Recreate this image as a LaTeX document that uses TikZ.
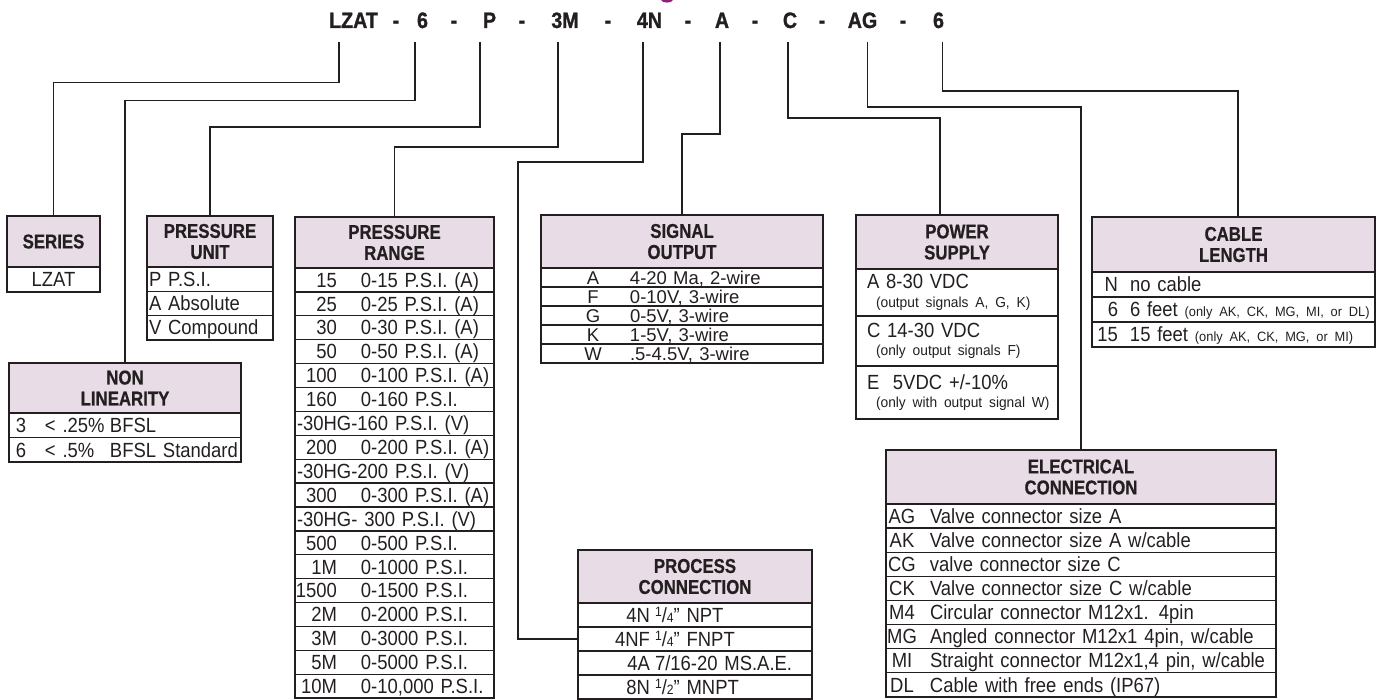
\documentclass[tikz,border=0pt]{standalone}
\usepackage{fontspec}
\setmainfont{Liberation Sans}[FakeStretch=0.9]
\newfontfamily\titlefam{Liberation Sans}[FakeStretch=0.88, BoldFeatures={FakeBold=1.2}]
\newfontfamily\hdrfam{Liberation Sans}[FakeStretch=0.84, BoldFeatures={FakeBold=0.6}]
\newfontfamily\notefam{Liberation Sans}[FakeStretch=0.95]
\newfontfamily\widefam{Liberation Sans}
\usetikzlibrary{positioning, calc}
\definecolor{inkGray}{HTML}{231F20}
\definecolor{hdrPink}{HTML}{E8DCE6}
\definecolor{titlePurple}{HTML}{8E1F7E}

\newcommand{\bodyfont}{\fontsize{20.5}{22}\selectfont}
\newcommand{\sigfont}{\widefam\fontsize{18.5}{20}\selectfont}
\newcommand{\notefont}{\notefam\fontsize{14.5}{16}\selectfont}
\newcommand{\cabnote}{\notefam\fontsize{13.5}{15}\selectfont}
\newcommand{\fracfont}{\fontsize{13.5}{15}\selectfont}
\newcommand{\hdrfont}{\hdrfam\bfseries\fontsize{20}{21}\selectfont}
\newcommand{\codefont}{\titlefam\bfseries\fontsize{22.3}{24}\selectfont}
\newcommand{\frc}[2]{\raisebox{0.55ex}{\fracfont #1}/{\fracfont #2}}
\newcommand{\prc}[1]{\makebox[40pt][r]{#1}\hspace{24pt}}

\tikzset{
  wire/.style={draw=inkGray, line width=1.6pt},
  codetxt/.style={font=\codefont, text=inkGray, inner sep=0pt, text height=16pt, text depth=0pt},
  hdrbox/.style={draw=inkGray, line width=1.4pt, fill=hdrPink, anchor=north west,
                 inner sep=0pt, outer sep=0pt, align=center, font=\hdrfont, text=inkGray},
  rowbox/.style={draw=inkGray, line width=1.3pt, anchor=north west, inner xsep=2pt,
                 inner ysep=0pt, outer sep=0pt, align=left, font=\bodyfont, text=inkGray,
                 text height=14.5pt, text depth=0pt},
  rowtall/.style={draw=inkGray, line width=1.3pt, anchor=north west, inner xsep=2pt,
                 inner ysep=0pt, outer sep=0pt, align=left, font=\bodyfont, text=inkGray},
  tblframe/.style={draw=inkGray, line width=2pt},
}

\begin{document}
\begin{tikzpicture}[x=1pt, y=-1pt]
\useasboundingbox (0,0) rectangle (1382,700);

% cut-off title descender
\fill[titlePurple] (661,0) .. controls (662,3.5) and (672,3.5) .. (673,0) -- cycle;

% model code
\foreach \x/\t [count=\i] in {353.5/LZAT, 396/-, 422.5/6, 454/-, 489.5/P, 522/-,
    565/3M, 608/-, 649.5/4N, 688/-, 722/A, 755/-, 790/C, 822/-, 862.5/AG, 903/-, 938.5/6}
  \node[codetxt] (t\i) at (\x,20) {\t};

\coordinate (kSer) at (339,42);
\coordinate (kLin) at (415,42);
\coordinate (kUnit) at (480,42);
\coordinate (kRng) at (558,42);
\coordinate (kProc) at (643,42);
\coordinate (kSig) at (720,42);
\coordinate (kPwr) at (788,42);
\coordinate (kElec) at (867.5,42);
\coordinate (kCab) at (942.5,42);

% series
\node[hdrbox, minimum width=93pt, minimum height=51pt] (ser) at (7,216) {SERIES};
\node[rowbox, text width=89pt, align=center, minimum height=25pt] (ser1) at (ser.south west) {LZAT};
\draw[tblframe] (ser.north west) rectangle (ser1.south east);

% non linearity
\node[hdrbox, minimum width=232pt, minimum height=50pt] (lin) at (9,363) {NON\\LINEARITY};
\foreach \txt [count=\i] in {{\hspace*{5pt}\makebox[29pt][l]{3}\makebox[65pt][l]{<\ .25\%}BFSL},
    {\hspace*{5pt}\makebox[29pt][l]{6}\makebox[65pt][l]{<\ .5\%}BFSL Standard}}
  \node[rowbox, text width=228pt, minimum height=24.5pt] (lin\i)
    at ($(lin.south west)+(0,{(\i-1)*24.5})$) {\txt};
\draw[tblframe] (lin.north west) rectangle (lin2.south east);

% pressure unit
\node[hdrbox, minimum width=126pt, minimum height=51pt] (unit) at (147,216) {PRESSURE\\UNIT};
\foreach \txt [count=\i] in {{P P.S.I.}, {A Absolute}, {V Compound}}
  \node[rowbox, text width=122pt, minimum height=24.3pt] (unit\i)
    at ($(unit.south west)+(0,{(\i-1)*24.3})$) {\txt};
\draw[tblframe] (unit.north west) rectangle (unit3.south east);

% pressure range
\node[hdrbox, minimum width=199pt, minimum height=51pt] (rng) at (295,217) {PRESSURE\\RANGE};
\foreach \txt [count=\i] in {{\prc{15}0-15 P.S.I. (A)}, {\prc{25}0-25 P.S.I. (A)},
    {\prc{30}0-30 P.S.I. (A)}, {\prc{50}0-50 P.S.I. (A)}, {\prc{100}0-100 P.S.I. (A)},
    {\prc{160}0-160 P.S.I.}, {-30HG-160 P.S.I. (V)}, {\prc{200}0-200 P.S.I. (A)},
    {-30HG-200 P.S.I. (V)}, {\prc{300}0-300 P.S.I. (A)}, {-30HG- 300 P.S.I. (V)},
    {\prc{500}0-500 P.S.I.}, {\prc{1M}0-1000 P.S.I.}, {\prc{1500}0-1500 P.S.I.},
    {\prc{2M}0-2000 P.S.I.}, {\prc{3M}0-3000 P.S.I.}, {\prc{5M}0-5000 P.S.I.},
    {\prc{10M}0-10,000 P.S.I.}}
  \node[rowbox, text width=195pt, minimum height=23.9pt] (rng\i)
    at ($(rng.south west)+(0,{(\i-1)*23.9})$) {\mbox{\txt}};
\draw[tblframe] (rng.north west) rectangle (rng18.south east);

% signal output
\node[hdrbox, minimum width=282pt, minimum height=53pt] (sig) at (541,215) {SIGNAL\\OUTPUT};
\foreach \c/\d [count=\i] in {A/{4-20 Ma, 2-wire}, F/{0-10V, 3-wire}, G/{0-5V, 3-wire},
    K/{1-5V, 3-wire}, W/{.5-4.5V, 3-wire}}
  \node[rowbox, text width=278pt, minimum height=19pt, font=\sigfont, text height=13.2pt] (sig\i)
    at ($(sig.south west)+(0,{(\i-1)*19})$) {\hspace*{28pt}\makebox[44pt]{\c}\hspace{15pt}\d};
\draw[tblframe] (sig.north west) rectangle (sig5.south east);

% process connection
\node[hdrbox, minimum width=234pt, minimum height=53pt] (prc) at (578,550) {PROCESS\\CONNECTION};
\foreach \c/\d [count=\i] in {4N/{\frc{1}{4}" NPT}, 4NF/{\frc{1}{4}" FNPT},
    4A/{7/16-20 MS.A.E.}, 8N/{\frc{1}{2}" MNPT}}
  \node[rowbox, text width=230pt, minimum height=24pt] (prc\i)
    at ($(prc.south west)+(0,{(\i-1)*24})$) {\makebox[70pt][r]{\c}\hspace{5pt}\d};
\draw[tblframe] (prc.north west) rectangle (prc4.south east);

% power supply
\node[hdrbox, minimum width=202pt, minimum height=54pt] (pwr) at (856,215) {POWER\\SUPPLY};
\node[rowtall, text width=198pt, minimum height=47pt] (pwr1) at (pwr.south west)
  {\hspace*{9pt}A 8-30 VDC\\[-3.5pt]\hspace*{18pt}\mbox{\notefont (output signals A, G, K)}};
\node[rowtall, text width=198pt, minimum height=50pt] (pwr2) at (pwr1.south west)
  {\hspace*{9pt}C 14-30 VDC\\[-3.5pt]\hspace*{18pt}\mbox{\notefont (only output signals F)}};
\node[rowtall, text width=198pt, minimum height=53pt] (pwr3) at (pwr2.south west)
  {\hspace*{9pt}E\ \ 5VDC +/-10\%\\[-3.5pt]\hspace*{18pt}\mbox{\notefont (only with output signal W)}};
\draw[tblframe] (pwr.north west) rectangle (pwr3.south east);

% cable length
\node[hdrbox, minimum width=283pt, minimum height=55pt] (cab) at (1092,217) {CABLE\\LENGTH};
\foreach \c/\d [count=\i] in {N/{no cable}, 6/{6 feet {\cabnote (only AK, CK, MG, MI, or DL)}},
    15/{15 feet {\cabnote (only AK, CK, MG, or MI)}}}
  \node[rowbox, text width=279pt, minimum height=25pt] (cab\i)
    at ($(cab.south west)+(0,{(\i-1)*25})$) {\mbox{\makebox[24pt][r]{\c}\hspace{12pt}\d}};
\draw[tblframe] (cab.north west) rectangle (cab3.south east);

% electrical connection
\node[hdrbox, minimum width=390pt, minimum height=54pt] (elc) at (886,450) {ELECTRICAL\\CONNECTION};
\foreach \c/\d [count=\i] in {AG/{Valve connector size A}, AK/{Valve connector size A w/cable},
    CG/{valve connector size C}, CK/{Valve connector size C w/cable},
    M4/{Circular connector M12x1. 4pin}, MG/{Angled connector M12x1 4pin, w/cable},
    MI/{Straight connector M12x1,4 pin, w/cable}, DL/{Cable with free ends (IP67)}}
  \node[rowbox, text width=386pt, minimum height=24.1pt] (elc\i)
    at ($(elc.south west)+(0,{(\i-1)*24.1})$) {\mbox{\makebox[28pt]{\c}\hspace{14pt}\d}};
\draw[tblframe] (elc.north west) rectangle (elc8.south east);

% leader lines
\draw[wire] (kSer) -- ++(0,40.7) -| (ser.north);
\draw[wire] (kLin) -- ++(0,58.7) -| (lin.north);
\draw[wire] (kUnit) -- ++(0,85) -| (unit.north);
\draw[wire] (kRng) -- ++(0,105) -| (rng.north);
\draw[wire] (kProc) -- ++(0,120) -- ++(-125,0) |- (prc2.west);
\draw[wire] (kSig) -- ++(0,92) -| (sig.north);
\draw[wire] (kPwr) -- ++(0,76) -| ([xshift=-17pt]pwr.north);
\draw[wire] (kElec) -- ++(0,65) -| (elc.north);
\draw[wire] (kCab) -- ++(0,49) -| ([xshift=4.5pt]cab.north);
\end{tikzpicture}
\end{document}
